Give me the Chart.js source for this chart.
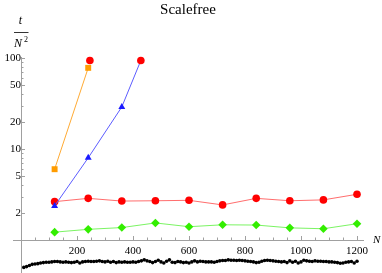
<!DOCTYPE html>
<html>
<head>
<meta charset="utf-8">
<script src="https://cdn.jsdelivr.net/npm/chart.js@4.4.1/dist/chart.umd.min.js"></script>
<style>
	html, body { margin: 0; padding: 0; background: #fff; }
	canvas { display: block; }
</style>
</head>
<body>
<canvas id="scalefree" width="382" height="273"></canvas>
<script>

// sizes N used by the coloured runs
const sizesN = [ 120, 240, 360, 480, 600, 720, 840, 960, 1080, 1200 ];

const orangeN = [ 120, 240 ];
const orangeT = [ 6.0, 78 ];

const blueN = [ 120, 240, 360, 428 ];
const blueT = [ 2.37, 8.0, 29, 94 ];

const redT = [ 2.64, 2.87, 2.68, 2.70, 2.73, 2.43, 2.87, 2.70, 2.76, 3.18 ];
const greenT = [ 1.22, 1.31, 1.37, 1.54, 1.40, 1.47, 1.46, 1.36, 1.33, 1.51 ];

// runs that hit the limit (red markers on top)
const limitN = [ 246, 428 ];
const limitT = [ 94, 94 ];

const blackN = [
	10, 20, 30, 40, 50, 60, 70, 80, 90, 100,
	110, 120, 130, 140, 150, 160, 170, 180, 190, 200,
	210, 220, 230, 240, 250, 260, 270, 280, 290, 300,
	310, 320, 330, 340, 350, 360, 370, 380, 390, 400,
	410, 420, 430, 440, 450, 460, 470, 480, 490, 500,
	510, 520, 530, 540, 550, 560, 570, 580, 590, 600,
	610, 620, 630, 640, 650, 660, 670, 680, 690, 700,
	710, 720, 730, 740, 750, 760, 770, 780, 790, 800,
	810, 820, 830, 840, 850, 860, 870, 880, 890, 900,
	910, 920, 930, 940, 950, 960, 970, 980, 990, 1000,
	1010, 1020, 1030, 1040, 1050, 1060, 1070, 1080, 1090, 1100,
	1110, 1120, 1130, 1140, 1150, 1160, 1170, 1180, 1190, 1200
];
const blackT = [
	0.50, 0.51, 0.525, 0.54, 0.545, 0.55, 0.56, 0.565, 0.57, 0.57,
	0.575, 0.58, 0.58, 0.575, 0.57, 0.575, 0.57, 0.565, 0.57, 0.58,
	0.56, 0.575, 0.58, 0.585, 0.58, 0.58, 0.585, 0.59, 0.58, 0.575,
	0.585, 0.57, 0.58, 0.565, 0.575, 0.57, 0.575, 0.57, 0.57, 0.575,
	0.57, 0.58, 0.59, 0.605, 0.59, 0.58, 0.565, 0.58, 0.60, 0.575,
	0.56, 0.585, 0.605, 0.57, 0.565, 0.58, 0.575, 0.565, 0.57, 0.56,
	0.575, 0.59, 0.575, 0.585, 0.58, 0.575, 0.575, 0.575, 0.57, 0.58,
	0.59, 0.595, 0.595, 0.605, 0.60, 0.60, 0.595, 0.60, 0.595, 0.59,
	0.585, 0.58, 0.575, 0.565, 0.57, 0.585, 0.595, 0.60, 0.595, 0.59,
	0.585, 0.58, 0.575, 0.58, 0.565, 0.59, 0.57, 0.585, 0.56, 0.575,
	0.60, 0.59, 0.585, 0.58, 0.59, 0.585, 0.585, 0.58, 0.58, 0.575,
	0.575, 0.57, 0.565, 0.555, 0.56, 0.57, 0.575, 0.58, 0.56, 0.585
];

const xTickLabels = [ 200, 400, 600, 800, 1000, 1200 ];
const yTickLabels = [ 2, 5, 10, 20, 50, 100 ];
const yMinorTicks = [ 3, 4, 6, 7, 8, 9, 30, 40, 60, 70, 80, 90 ];

const serif = '"Liberation Serif", "DejaVu Serif", serif';
const axisGray = '#a0a0a0';

const pts = ( xs, ys ) => xs.map( ( x, i ) => ( { x: x, y: ys[i] } ) );

// tick marks inside the frame + the t/N^2 and N labels
const mathAxes = {
	id: 'mathAxes',
	beforeDatasetsDraw( chart ) {
		const c = chart.ctx;
		const sx = chart.scales.x, sy = chart.scales.y;
		const x0 = sx.getPixelForValue( 0 );
		const y1 = sy.getPixelForValue( 1 );

		c.save();
		c.strokeStyle = axisGray;
		c.lineWidth = 1;
		c.beginPath();
		for ( let n = 50; n <= 1200; n += 50 ) {
			const px = Math.round( sx.getPixelForValue( n ) ) + 0.5;
			const len = n % 200 === 0 ? 4 : 2.5;
			c.moveTo( px, y1 );
			c.lineTo( px, y1 - len );
		}
		yTickLabels.forEach( v => {
			const py = Math.round( sy.getPixelForValue( v ) ) + 0.5;
			c.moveTo( x0, py );
			c.lineTo( x0 + 4, py );
		} );
		yMinorTicks.forEach( v => {
			const py = Math.round( sy.getPixelForValue( v ) ) + 0.5;
			c.moveTo( x0, py );
			c.lineTo( x0 + 2.5, py );
		} );
		c.stroke();
		c.restore();
	},
	afterDraw( chart ) {
		const c = chart.ctx;
		const sx = chart.scales.x, sy = chart.scales.y;
		const x0 = sx.getPixelForValue( 0 );
		const y1 = sy.getPixelForValue( 1 );

		c.save();
		c.fillStyle = '#000';
		c.strokeStyle = '#000';
		c.textBaseline = 'alphabetic';

		// t over N^2
		c.font = `italic 12px ${ serif }`;
		c.textAlign = 'center';
		c.fillText( 't', x0 - 0.5, 24 );
		c.lineWidth = 0.8;
		c.beginPath();
		c.moveTo( x0 - 7, 32.5 );
		c.lineTo( x0 + 7.5, 32.5 );
		c.stroke();
		c.textAlign = 'left';
		c.fillText( 'N', x0 - 7, 46.5 );
		c.font = `8px ${ serif }`;
		c.fillText( '2', x0 + 3, 42 );

		// N at the end of the x axis
		c.font = `italic 11px ${ serif }`;
		c.fillText( 'N', chart.chartArea.right + 10, y1 + 3 );
		c.restore();
	}
};

new Chart( 'scalefree', {
	type: 'scatter',
	data: {
		datasets: [ {
			data: pts( limitN, limitT ),
			pointStyle: 'circle',
			pointRadius: 3.8,
			backgroundColor: '#ff0000',
			borderWidth: 0,
			showLine: false
		}, {
			data: pts( orangeN, orangeT ),
			pointStyle: 'rect',
			pointRadius: 4.2,
			backgroundColor: '#ff9c00',
			borderColor: '#ffaa33',
			pointBorderWidth: 0,
			borderWidth: 1,
			showLine: true
		}, {
			data: pts( blueN, blueT ),
			pointStyle: 'triangle',
			pointRadius: [ 4, 4, 4, 0 ],
			backgroundColor: '#1a1aff',
			borderColor: '#5c5cff',
			pointBorderWidth: 0,
			borderWidth: 1,
			showLine: true
		}, {
			data: pts( sizesN, redT ),
			pointStyle: 'circle',
			pointRadius: 3.8,
			backgroundColor: '#ff0000',
			borderColor: 'rgba(255, 60, 60, 0.75)',
			pointBorderWidth: 0,
			borderWidth: 1,
			showLine: true
		}, {
			data: pts( sizesN, greenT ),
			pointStyle: 'rectRot',
			pointRadius: 4.3,
			backgroundColor: '#33ee00',
			borderColor: 'rgba(90, 240, 60, 0.8)',
			pointBorderWidth: 0,
			borderWidth: 1,
			showLine: true
		}, {
			data: pts( blackN, blackT ),
			pointStyle: 'circle',
			pointRadius: 1.8,
			backgroundColor: '#000',
			borderWidth: 0,
			showLine: false
		} ]
	},
	options: {
		responsive: false,
		animation: false,
		clip: false,
		layout: {
			autoPadding: false,
			padding: { left: 13, right: 19, top: 0, bottom: 0 }
		},
		plugins: {
			legend: { display: false },
			tooltip: { enabled: false },
			title: {
				display: true,
				text: 'Scalefree',
				color: '#000',
				font: { family: serif, size: 15, weight: 'normal' },
				padding: { top: 1, bottom: 38 }
			}
		},
		scales: {
			x: {
				type: 'linear',
				min: -28.6,
				max: 1221.4,
				position: { y: 1 },
				grid: { display: false, drawTicks: false },
				border: { display: true, color: axisGray, width: 1 },
				afterBuildTicks: s => { s.ticks = xTickLabels.map( v => ( { value: v } ) ); },
				afterFit: s => { s.paddingLeft = s.paddingRight = s.paddingTop = s.paddingBottom = 0; },
				ticks: {
					autoSkip: false,
					maxRotation: 0,
					padding: 4,
					color: '#000',
					font: { family: serif, size: 11 },
					callback: v => v
				}
			},
			y: {
				type: 'logarithmic',
				min: 0.434,
				max: 102.6,
				position: { x: 0 },
				grid: { display: false, drawTicks: false },
				border: { display: true, color: axisGray, width: 1 },
				afterBuildTicks: s => { s.ticks = yTickLabels.map( v => ( { value: v } ) ); },
				afterFit: s => { s.paddingLeft = s.paddingRight = s.paddingTop = s.paddingBottom = 0; },
				ticks: {
					autoSkip: false,
					padding: 3,
					color: '#000',
					font: { family: serif, size: 11 },
					callback: v => v
				}
			}
		}
	},
	plugins: [ mathAxes ]
} );

</script>
</body>
</html>
